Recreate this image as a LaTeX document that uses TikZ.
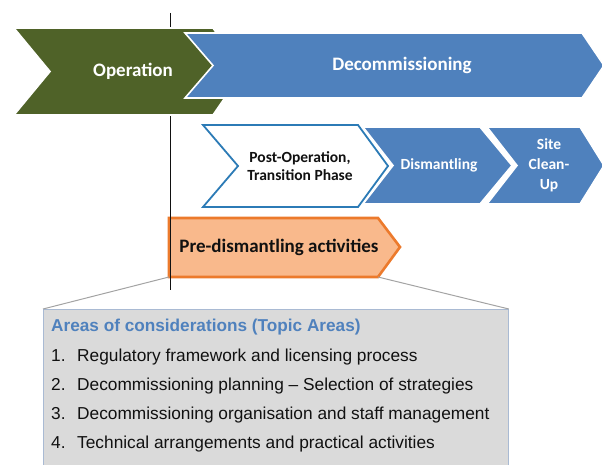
\documentclass[tikz,border=0pt]{standalone}
\usepackage{fontspec}
\setmainfont{Liberation Sans}
\newfontfamily\chfont{Carlito}
\definecolor{ink}{HTML}{111111}
\definecolor{opgreen}{HTML}{4F6228}
\definecolor{dcblue}{HTML}{4F81BD}
\definecolor{poline}{HTML}{2C7BB6}
\definecolor{pdfill}{HTML}{F9B98C}
\definecolor{pdline}{HTML}{EC7A2C}
\definecolor{boxfill}{HTML}{DADADA}
\definecolor{boxline}{HTML}{A9BAD3}
\definecolor{fanline}{HTML}{A3A3A3}
\tikzset{
  chev/.style={draw=white,line width=1.6pt,line join=miter},
  chevop/.style={chev,fill=opgreen},
  chevdc/.style={chev,fill=dcblue},
  chevpo/.style={draw=poline,line width=1.8pt,fill=white,line join=miter},
  chevpd/.style={draw=pdline,line width=2.6pt,fill=pdfill,line join=miter},
  lbl/.style={align=center,inner sep=0pt,font=\chfont\bfseries\fontsize{19}{22}\selectfont,text=white},
  lbls/.style={lbl,font=\chfont\bfseries\fontsize{15.5}{18}\selectfont},
  cutline/.style={draw=ink,line width=1pt},
  fan/.style={draw=fanline,line width=1pt},
  topicbox/.style={draw=boxline,line width=.8pt,fill=boxfill,inner sep=0pt,anchor=north west},
  ttl/.style={anchor=west,inner sep=0pt,font=\bfseries\fontsize{17.2}{20}\selectfont,text=dcblue},
  item/.style={anchor=west,inner sep=0pt,font=\fontsize{17.3}{20}\selectfont,text=ink},
}

\begin{document}
\begin{tikzpicture}[x=1pt,y=1pt]
  \useasboundingbox (0,0) rectangle (602,464);

  % pre-dismantling block and the time cut
  \draw[chevpd] (169,246) -- (378,246) -- (400,217) -- (378,187) -- (169,187) -- cycle;
  \node[lbl,text=ink] (pre) at (279,217) {Pre-dismantling activities};
  \coordinate (pdl) at (169,187);
  \coordinate (pdr) at (378,187);
  \coordinate (cuttop) at (170,451);
  \coordinate (cutbot) at (170,174);
  \draw[cutline] (cuttop) -- (cutbot);

  % life cycle
  \draw[chevop] (14,436) -- (213,436) -- (243,392.5) -- (213,349) -- (14,349) -- (50,392.5) -- cycle;
  \draw[chevdc] (185,431) -- (582,431) -- (604,398.5) -- (582,366) -- (185,366) -- (213,398.5) -- cycle;
  \node[lbl] (op) at (133,393) {Operation};
  \node[lbl] (dc) at (402,399) {Decommissioning};

  % decommissioning phases
  \draw[chevdc] (487,337) -- (580,337) -- (604,298.5) -- (580,260) -- (487,260) -- (517,298.5) -- cycle;
  \draw[chevdc] (363,337) -- (480,337) -- (512,298.5) -- (480,260) -- (363,260) -- (393,298.5) -- cycle;
  \draw[chevpo] (203,339) -- (358,339) -- (388,298) -- (358,257) -- (203,257) -- (238,298) -- cycle;
  \node[lbls,text=ink] (post) at (300,298) {Post-Operation,\\Transition Phase};
  \node[lbls] (dis) at (439,299) {Dismantling};
  \node[lbls,font=\chfont\bfseries\fontsize{15.5}{20}\selectfont] (site) at (549,299) {Site\\Clean-\\Up};

  % topic areas
  \node[topicbox,minimum width=465,minimum height=165] (areas) at (43,155) {};
  \draw[fan] (pdl) -- (areas.north west);
  \draw[fan] (pdr) -- (areas.north east);
  \node[ttl] (t0) at (51,137) {Areas of considerations (Topic Areas)};
  \node[item] (t1) at (51,107) {\makebox[26pt][l]{1.}Regulatory framework and licensing process};
  \node[item] (t2) at (51,78) {\makebox[26pt][l]{2.}Decommissioning planning -- Selection of strategies};
  \node[item] (t3) at (51,49) {\makebox[26pt][l]{3.}Decommissioning organisation and staff management};
  \node[item] (t4) at (51,20) {\makebox[26pt][l]{4.}Technical arrangements and practical activities};
\end{tikzpicture}
\end{document}
